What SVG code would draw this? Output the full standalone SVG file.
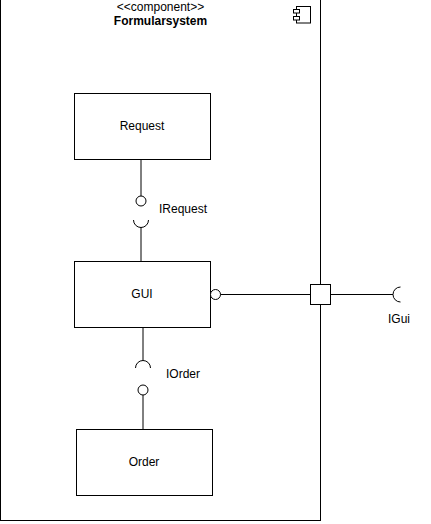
<svg xmlns="http://www.w3.org/2000/svg" width="431" height="524" viewBox="0 0 431 524">
<style>
  .box { fill: #ffffff; stroke: #000000; stroke-width: 1; }
  .line { fill: none; stroke: #000000; stroke-width: 1; }
  .ball { fill: #ffffff; stroke: #000000; stroke-width: 1; }
  text { font-family: "Liberation Sans", Arial, sans-serif; font-size: 12px; fill: #000000; }
  .c { text-anchor: middle; }
  .b { font-weight: bold; }
</style>
<rect width="431" height="524" fill="#ffffff"/>
<g id="formularsystem">
  <rect class="box" x="0.5" y="-1" width="320" height="521.5"/>
  <text class="c" x="160.5" y="11">&lt;&lt;component&gt;&gt;</text>
  <text class="c b" x="160.5" y="25">Formularsystem</text>
  <g id="component-icon">
    <rect class="box" x="296.5" y="6.5" width="14" height="16.5"/>
    <rect class="box" x="293.5" y="9.5" width="6" height="3.5"/>
    <rect class="box" x="293.5" y="16.5" width="6" height="3.5"/>
  </g>
</g>
<g id="request">
  <rect class="box" x="74.5" y="93.5" width="136" height="66"/>
  <text class="c" x="142" y="130">Request</text>
</g>
<g id="gui">
  <rect class="box" x="74.5" y="261.5" width="136" height="66"/>
  <text class="c" x="142" y="298">GUI</text>
</g>
<g id="order">
  <rect class="box" x="76.5" y="429.5" width="136" height="66"/>
  <text class="c" x="144" y="466">Order</text>
</g>
<g id="port">
  <rect class="box" x="310.5" y="284.5" width="20" height="20"/>
</g>
<g id="connectors">
  <line class="line" x1="141" y1="159.5" x2="141" y2="196"/>
  <circle class="ball" cx="141" cy="201" r="5"/>
  <path class="line" d="M133.5,220 A7.5,7.5 0 0 0 148.5,220"/>
  <line class="line" x1="141" y1="227.5" x2="141" y2="261.5"/>
  <line class="line" x1="143" y1="327.5" x2="143" y2="360.5"/>
  <path class="line" d="M135.5,368 A7.5,7.5 0 0 1 150.5,368"/>
  <circle class="ball" cx="143" cy="390" r="5"/>
  <line class="line" x1="143" y1="395" x2="143" y2="429.5"/>
  <circle class="ball" cx="215.5" cy="294.5" r="5"/>
  <line class="line" x1="220.5" y1="294.5" x2="310.5" y2="294.5"/>
  <line class="line" x1="330.5" y1="294.5" x2="393" y2="294.5"/>
  <path class="line" d="M400.5,287 A7.5,7.5 0 0 0 400.5,302"/>
</g>
<g id="labels">
  <text x="159" y="213">IRequest</text>
  <text x="166" y="378">IOrder</text>
  <text x="388" y="323">IGui</text>
</g>
</svg>
